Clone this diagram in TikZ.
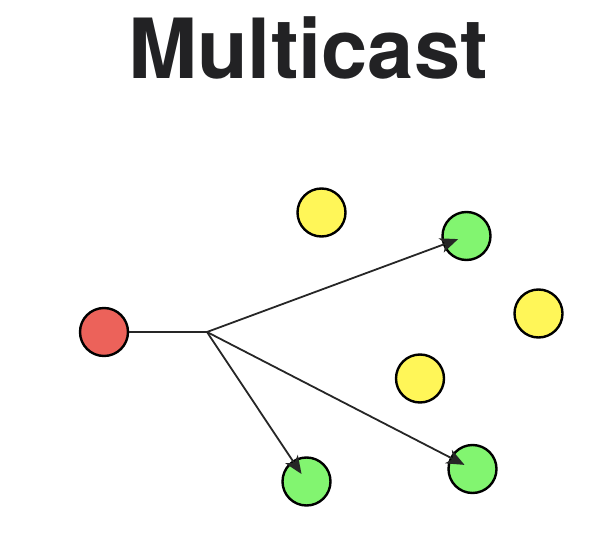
\documentclass[tikz,border=0pt]{standalone}
\usepackage{fontspec}
\setmainfont{TeX Gyre Heros}
\usetikzlibrary{arrows.meta}
\definecolor{titlegray}{RGB}{34,34,36}
\definecolor{hostred}{RGB}{236,98,90}
\definecolor{hostyellow}{RGB}{255,246,88}
\definecolor{hostgreen}{RGB}{130,245,112}
\tikzset{
  host/.style={circle, draw=black, line width=2.4pt, minimum size=48pt, inner sep=0pt},
  link/.style={line width=1.8pt, draw=black!85},
  cast/.style={link, -{Stealth[length=18pt, width=15pt, inset=5pt]}, shorten >=9pt},
}
\begin{document}
\begin{tikzpicture}[x=1pt, y=-1pt]
\useasboundingbox (0,0) rectangle (610,556);
\node[anchor=base, text=titlegray, font=\fontsize{83}{88}\selectfont\bfseries] (title) at (308,79) {Multicast};
\node[host, fill=hostred] (src) at (104,332) {};
\node[host, fill=hostyellow] (y1) at (321.5,212.5) {};
\node[host, fill=hostyellow] (y2) at (538.5,313.5) {};
\node[host, fill=hostyellow] (y3) at (420,378.5) {};
\node[host, fill=hostgreen] (g1) at (466.5,236) {};
\node[host, fill=hostgreen] (g2) at (472.5,469) {};
\node[host, fill=hostgreen] (g3) at (306.5,481.5) {};
\coordinate (b) at (207,332);
\draw[link] (src) -- (b);
\draw[cast] (b) -- (g1.center);
\draw[cast] (b) -- (g2.center);
\draw[cast] (b) -- (g3.center);
\end{tikzpicture}
\end{document}
